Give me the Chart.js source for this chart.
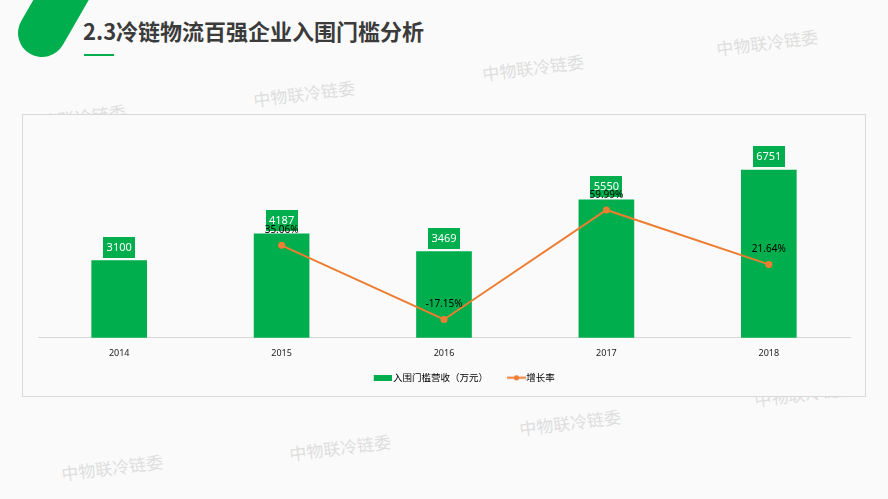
<!DOCTYPE html>
<html>
<head>
<meta charset="utf-8">
<script src="https://cdn.jsdelivr.net/npm/chart.js@4.4.1/dist/chart.umd.min.js"></script>
<style>
  html, body { margin: 0; padding: 0; }
  body { width: 888px; height: 499px; background: #fafafa; position: relative; overflow: hidden;
         font-family: "Noto Sans CJK SC", "Noto Sans", sans-serif; }
  .mark { position: absolute; color: #dedede; font-size: 17px; white-space: nowrap;
          transform: translate(-50%, -50%) rotate(-7deg); }
  #title { position: absolute; left: 83px; top: 19px; font-size: 22px; line-height: 22px;
           font-weight: bold; color: #3b3b3b; white-space: nowrap; }
  #underline { position: absolute; left: 84px; top: 54px; width: 30px; height: 2px; background: #00ae4d; }
  #box { position: absolute; left: 22px; top: 114px; width: 842px; height: 281px;
         border: 1px solid #d9d9d9; background: #fafafa; }
</style>
</head>
<body>
<svg width="130" height="70" style="position:absolute;left:0;top:0">
  <line x1="42" y1="33" x2="110" y2="-85" stroke="#00ae4d" stroke-width="48" stroke-linecap="round"/>
</svg>
<div id="title">2.3冷链物流百强企业入围门槛分析</div>
<div id="underline"></div>

<div class="mark" style="left:767px;top:42px">中物联冷链委</div>
<div class="mark" style="left:533px;top:67px">中物联冷链委</div>
<div class="mark" style="left:304px;top:93px">中物联冷链委</div>
<div class="mark" style="left:75px;top:117px">中物联冷链委</div>
<div class="mark" style="left:805px;top:393px">中物联冷链委</div>
<div class="mark" style="left:570px;top:422px">中物联冷链委</div>
<div class="mark" style="left:340px;top:447px">中物联冷链委</div>
<div class="mark" style="left:112px;top:467px">中物联冷链委</div>

<div id="box"><canvas id="myChart"></canvas></div>

<script>
const ctx = document.getElementById('myChart').getContext('2d');

// Years on the x-axis
const years = ['2014', '2015', '2016', '2017', '2018'];

// Entry threshold revenue (10k yuan) and year-on-year growth (%)
const revenue = [3100, 4187, 3469, 5550, 6751];
const growth = [null, 35.06, -17.15, 59.99, 21.64];

const seriesNames = ['入围门槛营收（万元）', '增长率'];

const green = '#00ae4d';
const orange = '#ed7d31';

// Legend symbols: the visible mark sits at the right end of the image,
// the empty left part works as spacing between the two legend items
function legendIcon(w, h, draw) {
    const c = document.createElement('canvas');
    c.width = w;
    c.height = h;
    draw(c.getContext('2d'));
    return c;
}
const barIcon = legendIcon(36, 6, g => {
    g.fillStyle = green;
    g.fillRect(18, 0, 18, 6);
});
const lineIcon = legendIcon(38, 7, g => {
    g.strokeStyle = orange;
    g.lineWidth = 2;
    g.beginPath();
    g.moveTo(19, 3.5);
    g.lineTo(38, 3.5);
    g.stroke();
    g.fillStyle = orange;
    g.beginPath();
    g.arc(28.5, 3.5, 2.6, 0, Math.PI * 2);
    g.fill();
});

// Value labels: green boxes above bars, plain text above line points
const valueLabels = {
    id: 'valueLabels',
    afterLayout(chart) {
        // the legend sits a bit right of centre in the original
        chart.legend.left += 13;
        chart.legend.right += 13;
    },
    afterDatasetsDraw(chart) {
        const c = chart.ctx;
        c.save();
        c.textAlign = 'center';
        c.textBaseline = 'middle';

        c.font = '11px "Noto Sans", sans-serif';
        chart.getDatasetMeta(1).data.forEach((bar, i) => {
            const text = String(revenue[i]);
            const w = Math.round(c.measureText(text).width) + 7;
            const h = 21;
            const top = bar.y - 3 - h;
            c.fillStyle = green;
            c.fillRect(Math.round(bar.x - w / 2), Math.round(top), w, h);
            c.fillStyle = '#ffffff';
            c.fillText(text, bar.x, top + h / 2 + 0.5);
        });

        c.font = '10px "Noto Sans", sans-serif';
        c.fillStyle = '#000000';
        chart.getDatasetMeta(0).data.forEach((pt, i) => {
            if (growth[i] === null) return;
            c.fillText(growth[i].toFixed(2) + '%', pt.x, pt.y - 15);
        });
        c.restore();
    }
};

const data = {
    labels: years,
    datasets: [{
        type: 'line',
        label: seriesNames[1],
        data: growth,
        yAxisID: 'y2',
        borderColor: orange,
        backgroundColor: orange,
        borderWidth: 2,
        pointRadius: 3.5,
        pointBackgroundColor: orange,
        pointBorderWidth: 0,
        tension: 0
    }, {
        type: 'bar',
        label: seriesNames[0],
        data: revenue,
        yAxisID: 'y',
        backgroundColor: green,
        barThickness: 55
    }]
};

const options = {
    responsive: true,
    maintainAspectRatio: false,
    animation: false,
    layout: {
        padding: { left: 15, right: 15, top: 24, bottom: 3.5 }
    },
    plugins: {
        tooltip: { enabled: false },
        legend: {
            position: 'bottom',
            labels: {
                color: '#333333',
                font: { size: 9.5, family: '"Noto Sans CJK SC", sans-serif' },
                usePointStyle: true,
                pointStyleWidth: 29,
                boxHeight: 9,
                padding: 4.5,
                generateLabels: () => [
                    { text: seriesNames[0], pointStyle: barIcon, fillStyle: green, strokeStyle: green, lineWidth: 0, datasetIndex: 1 },
                    { text: seriesNames[1], pointStyle: lineIcon, fillStyle: orange, strokeStyle: orange, lineWidth: 0, datasetIndex: 0 }
                ]
            }
        }
    },
    scales: {
        x: {
            grid: { display: false, drawTicks: false },
            border: { display: true, color: '#d9d9d9' },
            ticks: {
                color: '#222222',
                padding: 10,
                font: { size: 9, family: '"Noto Sans", sans-serif' }
            }
        },
        y: {
            display: false,
            min: 0,
            max: 8000
        },
        y2: {
            display: false,
            min: -30,
            max: 110
        }
    }
};

const myChart = new Chart(ctx, {
    type: 'bar',
    data: data,
    options: options,
    plugins: [valueLabels]
});
</script>
</body>
</html>
